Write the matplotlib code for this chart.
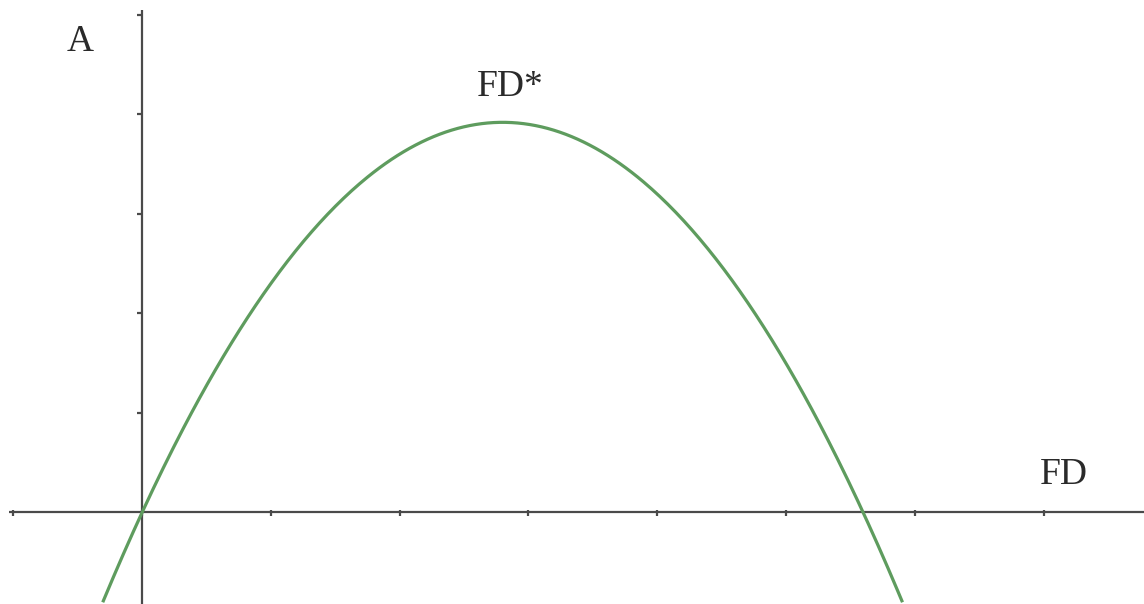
import numpy as np
import matplotlib
matplotlib.use("Agg")
import matplotlib.pyplot as plt

# Points on the profit curve A(FD)
fd_points = [-0.3, 0.0, 1.0, 2.0, 2.8, 3.0, 4.0, 5.0, 5.6, 5.9]
a_points = [-0.89, 0.0, 2.3, 3.6, 3.92, 3.9, 3.2, 1.5, 0.0, -0.89]

x_ticks = [-1, 0, 1, 2, 3, 4, 5, 6, 7]
y_ticks = [1, 2, 3, 4, 5]

fig = plt.figure(figsize=(11.44, 6.04), dpi=100)
ax = fig.add_axes([0, 0, 1, 1])
ax.set_xlim(-1.1025, 7.78)
ax.set_ylim(-0.92, 5.15)
ax.axis("off")

axis_col = "#4a4a4a"
# Coordinate axes
ax.plot([-1.03, 7.78], [0, 0], color=axis_col, lw=1.6, solid_capstyle="butt", zorder=2)
ax.plot([0, 0], [-0.92, 5.05], color=axis_col, lw=1.6, solid_capstyle="butt", zorder=2)

# Tick marks
ax.vlines(x_ticks, -0.035, 0.02, color=axis_col, lw=1.6, zorder=2)
ax.hlines(y_ticks, -0.04, 0.0, color=axis_col, lw=1.6, zorder=2)

# Smooth curve through the points
coef = np.polyfit(fd_points, a_points, 2)
xs = np.linspace(min(fd_points), max(fd_points), 400)
ax.plot(xs, np.polyval(coef, xs), color="#5e9c5e", lw=2.3, zorder=3)

serif = ["Liberation Serif", "DejaVu Serif"]
ax.text(-0.48, 4.73, "A", family=serif, fontsize=27, color="#2a2a2a", ha="center", va="center")
ax.text(2.86, 4.28, "FD*", family=serif, fontsize=27, color="#2a2a2a", ha="center", va="center")
ax.text(7.16, 0.38, "FD", family=serif, fontsize=27, color="#2a2a2a", ha="center", va="center")

fig.savefig("out.png", dpi=100, facecolor="white")
